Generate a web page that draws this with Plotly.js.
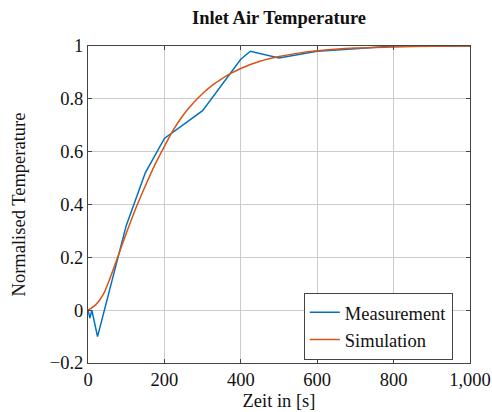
<!DOCTYPE html>
<html>
<head>
<meta charset="utf-8">
<script src="https://cdn.plot.ly/plotly-3.0.1.min.js"></script>
<style>html,body{margin:0;padding:0;background:#fff}#chart{width:492px;height:412px}</style>
</head>
<body>
<div id="chart"></div>
<script>
var measTime = [0, 5, 10, 25, 100, 150, 200, 300, 400, 425, 500, 600, 700, 800, 900, 1000];
var measTemp = [0, -0.03, 0, -0.1, 0.32, 0.52, 0.65, 0.755, 0.95, 0.98, 0.955, 0.98, 0.99, 1.0, 1.0, 1.0];
var simTime = [0, 20, 40, 60, 80, 100, 125, 150, 175, 200, 225, 250, 275, 300, 325, 350, 375, 400, 450, 500, 550, 600, 700, 800, 900, 1000];
var simTemp = [0, 0.02, 0.06, 0.13, 0.21, 0.29, 0.385, 0.47, 0.55, 0.62, 0.686, 0.74, 0.783, 0.82, 0.851, 0.876, 0.897, 0.915, 0.942, 0.96, 0.973, 0.982, 0.992, 0.996, 0.999, 1.0];
var xTicks = [0, 200, 400, 600, 800, 1000];
var yTicks = [-0.2, 0, 0.2, 0.4, 0.6, 0.8, 1];

var font = 'Liberation Serif, Times New Roman, serif';
var fs = 18.5;
var traces = [
  {x: measTime, y: measTemp, mode: 'lines', name: 'Measurement', line: {color: '#0072BD', width: 1.5}},
  {x: simTime, y: simTemp, mode: 'lines', name: 'Simulation', line: {color: '#D95319', width: 1.5, shape: 'spline', smoothing: 0.8}}
];
var axisCommon = {
  showgrid: true, gridcolor: '#cccccc', gridwidth: 1,
  showline: true, linecolor: '#444', linewidth: 1, mirror: 'ticks',
  ticks: 'inside', ticklen: 4, tickcolor: '#444',
  zeroline: false, tickfont: {family: font, size: fs, color: '#111'}
};
var layout = {
  width: 492, height: 412,
  margin: {l: 88, r: 22, t: 46, b: 49},
  paper_bgcolor: '#fff', plot_bgcolor: '#fff',
  font: {family: font, color: '#111'},
  title: {text: '<b>Inlet Air Temperature</b>', font: {family: font, size: fs, color: '#111'}, xref: 'paper', x: 0.5, xanchor: 'center', yref: 'container', y: 0.958, yanchor: 'middle'},
  xaxis: Object.assign({}, axisCommon, {
    range: [0, 1000], tickvals: xTicks, tickformat: ',d',
    title: {text: 'Zeit in [s]', font: {family: font, size: fs, color: '#111'}, standoff: 4}
  }),
  yaxis: Object.assign({}, axisCommon, {
    range: [-0.2, 1], tickvals: yTicks,
    title: {text: 'Normalised Temperature', font: {family: font, size: fs, color: '#111'}, standoff: 19}
  }),
  legend: {
    x: 0.955, y: 0.01, xanchor: 'right', yanchor: 'bottom',
    bgcolor: '#fff', bordercolor: '#444', borderwidth: 1,
    font: {family: font, size: fs, color: '#111'},
    tracegroupgap: 0, itemwidth: 30
  },
  showlegend: true
};
Plotly.newPlot('chart', traces, layout, {displayModeBar: false, staticPlot: true});
</script>
</body>
</html>
